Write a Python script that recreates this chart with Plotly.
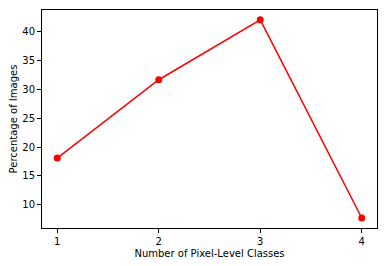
import plotly.graph_objects as go

classes = [1, 2, 3, 4]
percentages = [18.1, 31.7, 42.1, 7.7]
x_tick_vals = [1, 2, 3, 4]
x_tick_text = ["1", "2", "3", "4"]
y_tick_vals = [10, 15, 20, 25, 30, 35, 40]

fig = go.Figure()
fig.add_trace(go.Scatter(
    x=classes, y=percentages, mode="lines+markers",
    line=dict(color="red", width=1.5),
    marker=dict(color="red", size=7, line=dict(width=0)),
    showlegend=False,
))

# the page body has an 8px default margin, so the figure is offset by 8px
font = dict(family="DejaVu Sans", size=10, color="#000000")
fig.update_layout(
    width=378, height=258,
    margin=dict(l=33.5, r=9.4, t=2.3, b=37.7),
    paper_bgcolor="white", plot_bgcolor="white",
    font=font,
)
fig.update_xaxes(
    range=[0.85, 4.15], tickvals=x_tick_vals, ticktext=x_tick_text,
    showgrid=False, zeroline=False, automargin=False,
    showline=True, linecolor="black", linewidth=1, mirror=True,
    ticks="outside", ticklen=4, tickwidth=0.8, tickcolor="black",
    title=dict(text="Number of Pixel-Level Classes", font=font, standoff=3),
)
fig.update_yaxes(
    range=[5.97, 43.8], tickvals=y_tick_vals,
    showgrid=False, zeroline=False, automargin=False,
    showline=True, linecolor="black", linewidth=1, mirror=True,
    ticks="outside", ticklen=4, tickwidth=0.8, tickcolor="black",
    title=dict(text="Percentage of Images", font=font, standoff=4),
)

fig.write_html("out.html")
